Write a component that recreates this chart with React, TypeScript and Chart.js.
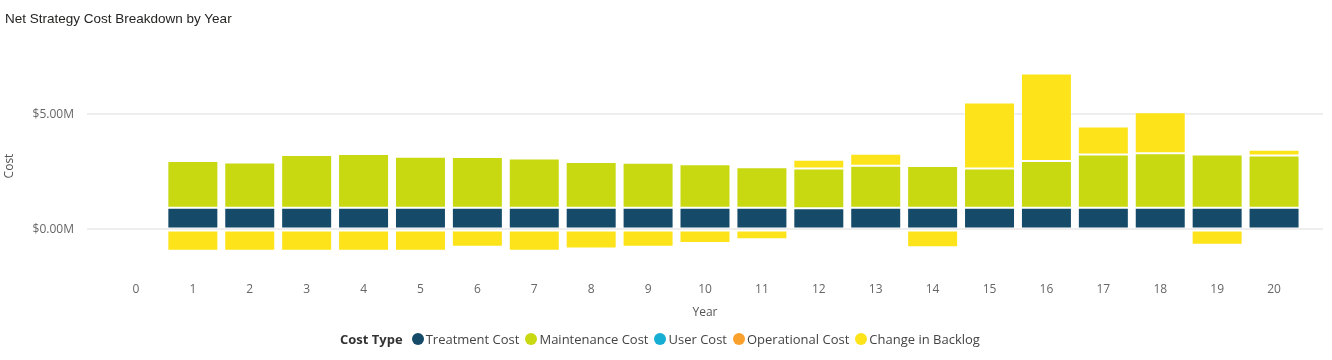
import React, { useEffect, useRef } from "react";
import { Chart, registerables } from "chart.js";

Chart.register(...registerables);

const years = [0, 1, 2, 3, 4, 5, 6, 7, 8, 9, 10, 11, 12, 13, 14, 15, 16, 17, 18, 19, 20];
const treatmentCost = [null, 0.94, 0.94, 0.94, 0.94, 0.94, 0.94, 0.94, 0.94, 0.94, 0.94, 0.94, 0.92, 0.94, 0.94, 0.94, 0.94, 0.94, 0.94, 0.94, 0.94];
const maintenanceCost = [null, 2.03, 1.96, 2.29, 2.33, 2.21, 2.2, 2.14, 1.98, 1.95, 1.89, 1.76, 1.72, 1.82, 1.81, 1.7, 2.03, 2.31, 2.36, 2.31, 2.27];
const userCost = [null, 0, 0, 0, 0, 0, 0, 0, 0, 0, 0, 0, 0, 0, 0, 0, 0, 0, 0, 0, 0];
const operationalCost = [null, 0, 0, 0, 0, 0, 0, 0, 0, 0, 0, 0, 0, 0, 0, 0, 0, 0, 0, 0, 0];
const changeInBacklog = [null, -0.93, -0.93, -0.93, -0.93, -0.92, -0.75, -0.93, -0.83, -0.75, -0.59, -0.43, 0.38, 0.52, -0.77, 2.86, 3.79, 1.21, 1.78, -0.66, 0.25];
const yTicks = [0, 5];

const seriesNames = ["Treatment Cost", "Maintenance Cost", "User Cost", "Operational Cost", "Change in Backlog"];
const seriesColors = ["#154B69", "#C8D811", "#17AED3", "#F9A12C", "#FCE31A"];

const tickFont = { family: "'Open Sans', 'DejaVu Sans', sans-serif", size: 12 };

export default function App() {
  const ref = useRef<HTMLCanvasElement | null>(null);

  useEffect(() => {
    if (!ref.current) return;
    const seriesData = [treatmentCost, maintenanceCost, userCost, operationalCost, changeInBacklog];
    const datasets = seriesNames.map((name, si) => ({
      label: name,
      data: years.map((yr, i) => ({ x: yr, y: seriesData[si][i] == null ? null : (seriesData[si][i] as number) * 1e6 })),
      backgroundColor: seriesColors[si],
      borderColor: "rgba(255,255,255,0.4)",
      borderWidth: si === 2 || si === 3 ? 0 : 1,
      borderSkipped: false as const,
      barPercentage: 0.896,
      categoryPercentage: 1,
    }));

    const chart = new Chart(ref.current, {
      type: "bar",
      data: { datasets: datasets as any },
      options: {
        animation: false,
        responsive: false,
        maintainAspectRatio: false,
        layout: { padding: { top: 68, bottom: 34, left: 0, right: 9 } },
        plugins: {
          legend: { display: false },
          title: { display: false },
          tooltip: { enabled: false },
        },
        scales: {
          x: {
            type: "linear",
            stacked: true,
            offset: false,
            min: -0.86,
            max: 20.86,
            grid: { display: false, drawTicks: false },
            border: { display: false },
            afterBuildTicks: (s: any) => {
              s.ticks = years.map((v) => ({ value: v }));
            },
            afterFit: (s: any) => {
              s.height = 62;
            },
            ticks: {
              autoSkip: false,
              maxRotation: 0,
              padding: 18,
              color: "#666666",
              font: tickFont,
              callback: (v: any) => String(v),
            },
            title: {
              display: true,
              text: "Year",
              color: "#555555",
              font: tickFont,
              padding: { top: 0, bottom: 6 },
            },
          },
          y: {
            stacked: true,
            min: -1.5e6,
            max: 7e6,
            grid: { color: "#EEEEEE", lineWidth: 2, drawTicks: false },
            border: { display: false },
            afterBuildTicks: (s: any) => {
              s.ticks = yTicks.map((v) => ({ value: v * 1e6 }));
            },
            afterFit: (s: any) => {
              s.width = 87;
            },
            ticks: {
              padding: 13,
              color: "#666666",
              font: tickFont,
              callback: (v: any) => "$" + (Number(v) / 1e6).toFixed(2) + "M",
            },
            title: {
              display: true,
              text: "Cost",
              color: "#555555",
              font: tickFont,
              padding: { top: 2, bottom: 0 },
            },
          },
        },
      },
    });
    return () => chart.destroy();
  }, []);

  const legendFont = "'Open Sans', 'DejaVu Sans', sans-serif";

  return (
    <div style={{ position: "absolute", left: 0, top: 0, width: 1332, height: 360, background: "#fff", overflow: "hidden" }}>
      <canvas ref={ref} width={1332} height={360} style={{ position: "absolute", left: 0, top: 0, width: 1332, height: 360 }} />
      <div
        style={{
          position: "absolute",
          left: 5,
          top: 11,
          fontFamily: "'Liberation Sans', Arial, sans-serif",
          fontSize: 13.5,
          color: "#252423",
          whiteSpace: "nowrap",
        }}
      >
        Net Strategy Cost Breakdown by Year
      </div>
      <div
        style={{
          position: "absolute",
          left: 340,
          top: 330,
          display: "flex",
          alignItems: "center",
          fontFamily: legendFont,
          fontSize: 13,
          color: "#444444",
          whiteSpace: "nowrap",
        }}
      >
        <span style={{ fontWeight: 700, color: "#333333", marginRight: 9 }}>Cost Type</span>
        {seriesNames.map((n, i) => (
          <span key={n} style={{ display: "flex", alignItems: "center", marginRight: 6 }}>
            <span
              style={{
                display: "inline-block",
                width: 12,
                height: 12,
                borderRadius: 6,
                background: seriesColors[i],
                marginRight: 2,
              }}
            />
            {n}
          </span>
        ))}
      </div>
    </div>
  );
}
